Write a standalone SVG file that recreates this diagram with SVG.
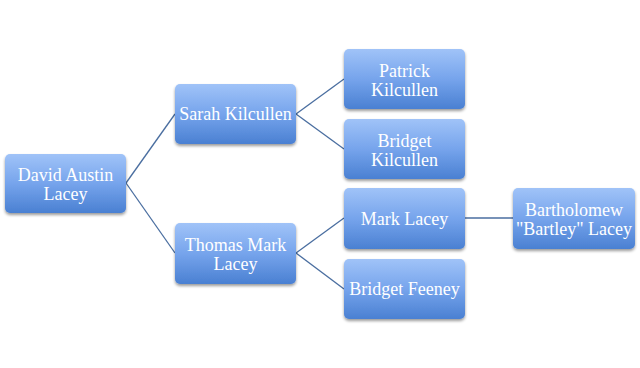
<svg xmlns="http://www.w3.org/2000/svg" width="640" height="368" viewBox="0 0 640 368">
<defs>
<linearGradient id="g" x1="0" y1="0" x2="0" y2="1">
<stop offset="0" stop-color="#a0c3f8"/>
<stop offset="0.5" stop-color="#76a4ec"/>
<stop offset="1" stop-color="#4a80d2"/>
</linearGradient>
<filter id="sh" x="-10%" y="-10%" width="120%" height="130%">
<feGaussianBlur in="SourceAlpha" stdDeviation="1.5"/>
<feOffset dy="2" result="b"/>
<feComponentTransfer><feFuncA type="linear" slope="0.4"/></feComponentTransfer>
<feMerge><feMergeNode/><feMergeNode in="SourceGraphic"/></feMerge>
</filter>
</defs>
<style>
.box{fill:url(#g);filter:url(#sh)}
.t{font-family:"Liberation Serif","DejaVu Serif",serif;font-size:18px;fill:#ffffff;text-anchor:middle}
.c{stroke:#4a6ea0;stroke-width:1.3;fill:none}
</style>
<rect width="640" height="368" fill="#ffffff"/>
<g id="connectors">
<line class="c" x1="126" y1="183" x2="175" y2="114"/>
<line class="c" x1="126" y1="183" x2="175" y2="253"/>
<line class="c" x1="296" y1="114" x2="344" y2="79"/>
<line class="c" x1="296" y1="114" x2="344" y2="149"/>
<line class="c" x1="296" y1="253" x2="344" y2="218"/>
<line class="c" x1="296" y1="253" x2="344" y2="289"/>
<line class="c" x1="465" y1="218" x2="513" y2="218"/>
</g>
<g id="david">
<rect class="box" x="5" y="154" width="121" height="59" rx="5"/>
<text class="t" x="65.5" y="181">David Austin</text>
<text class="t" x="65.5" y="200">Lacey</text>
</g>
<g id="sarah">
<rect class="box" x="175" y="84" width="121" height="60" rx="5"/>
<text class="t" x="235.5" y="120">Sarah Kilcullen</text>
</g>
<g id="patrick">
<rect class="box" x="344" y="49" width="121" height="60" rx="5"/>
<text class="t" x="404.5" y="77">Patrick</text>
<text class="t" x="404.5" y="96">Kilcullen</text>
</g>
<g id="bridgetk">
<rect class="box" x="344" y="119" width="121" height="60" rx="5"/>
<text class="t" x="404.5" y="147">Bridget</text>
<text class="t" x="404.5" y="166">Kilcullen</text>
</g>
<g id="thomas">
<rect class="box" x="175" y="223" width="121" height="61" rx="5"/>
<text class="t" x="235.5" y="251">Thomas Mark</text>
<text class="t" x="235.5" y="270">Lacey</text>
</g>
<g id="mark">
<rect class="box" x="344" y="188" width="121" height="61" rx="5"/>
<text class="t" x="404.5" y="225">Mark Lacey</text>
</g>
<g id="bridgetf">
<rect class="box" x="344" y="259" width="121" height="60" rx="5"/>
<text class="t" x="404.5" y="295">Bridget Feeney</text>
</g>
<g id="bartholomew">
<rect class="box" x="513" y="188" width="122" height="61" rx="5"/>
<text class="t" x="574" y="216">Bartholomew</text>
<text class="t" x="574" y="235">"Bartley" Lacey</text>
</g>
</svg>
